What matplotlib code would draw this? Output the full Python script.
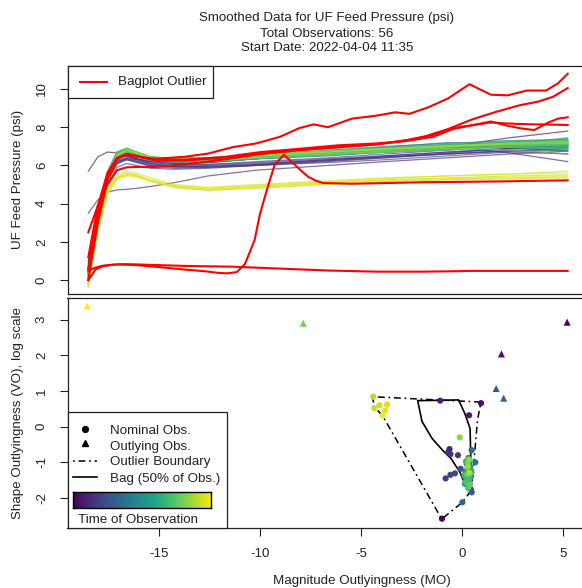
import numpy as np
import matplotlib
matplotlib.use('Agg')
import matplotlib.pyplot as plt
from matplotlib.patches import Rectangle, Polygon
from matplotlib.lines import Line2D

plt.rcParams['font.family'] = ['Liberation Sans', 'DejaVu Sans']
FS = 9.6

# ---------------- data ----------------
n_obs = 56
# observation order = time order; outliers drawn in red on top panel
outlier_ids = [1, 3, 16, 17, 44, 55]

# Bottom panel: magnitude (MO) and shape (VO, log) outlyingness per observation
mo = [-1.01, 5.18, 0.92, 1.93, 0.33, -1.10, -0.64, -0.70, -0.59, -0.22,
      -0.83, -0.59, -0.37, -0.09, 0.42, 0.46, 1.67, 2.04, 0.00, 0.46,
      0.64, 0.30, 0.22, 0.38, 0.15, 0.28, 0.42, 0.20, 0.33, 0.12,
      0.25, 0.40, 0.18, 0.35, 0.10, 0.30, 0.45, 0.24, 0.36, 0.16,
      0.28, 0.20, 0.38, 0.26, -7.87, -0.13, 0.32, 0.27, 0.35, -4.41,
      -4.36, -4.10, -3.73, -3.82, -3.95, -18.55]
vo = [-2.58, 2.93, 0.66, 2.04, 0.32, 0.73, -0.63, -0.72, -0.77, -0.80,
      -1.45, -1.35, -1.31, -1.18, -1.76, -1.84, 1.07, 0.80, -2.12, -0.66,
      -1.00, -0.88, -1.05, -1.12, -1.25, -1.30, -1.40, -1.48, -1.55, -1.60,
      -1.65, -1.22, -0.98, -0.95, -1.38, -1.08, -1.28, -1.20, -1.45, -1.55,
      -1.72, -1.35, -1.62, -1.00, 2.90, -0.30, -0.92, -1.12, -1.30, 0.84,
      0.52, 0.60, 0.62, 0.45, 0.31, 3.39]

# Bag (50%) and outlier boundary polygons
bag_x = [-2.21, -1.10, -0.19, 0.12, 0.38, 0.43, 0.36, 0.20, 0.10, -0.10, -0.55, -0.95, -1.50, -2.00]
bag_y = [0.73, 0.74, 0.75, 0.37, -0.05, -1.30, -1.55, -1.62, -1.58, -1.30, -0.90, -0.68, -0.33, 0.15]
fence_x = [-4.45, 0.92, 0.75, 0.62, 0.52, 0.42, 0.00, -1.02, -3.95, -4.35]
fence_y = [0.84, 0.69, 0.20, -0.65, -1.30, -1.80, -2.12, -2.59, 0.31, 0.55]

# Top panel: smoothed curves (fraction of run time)
curve_x = [0, 0.02, 0.04, 0.06, 0.08, 0.1, 0.13, 0.18, 0.25, 0.35, 0.5, 0.62, 0.75, 0.88, 1.0]
nominal_curves = {
    0: [0.8, 3.6, 5.3, 6.2, 6.4, 6.3, 6.1, 5.95, 5.95, 6.05, 6.3, 6.5, 6.7, 6.9, 7.0],
    2: [5.7, 6.45, 6.7, 6.65, 6.5, 6.35, 6.2, 6.1, 6.15, 6.35, 6.6, 6.8, 7.0, 7.45, 7.8],
    4: [1.0, 3.8, 5.6, 6.4, 6.5, 6.35, 6.2, 6.1, 6.15, 6.35, 6.65, 6.9, 7.0, 6.65, 6.2],
    5: [3.5, 4.2, 4.6, 4.72, 4.75, 4.8, 4.9, 5.1, 5.45, 5.75, 6.0, 6.2, 6.4, 6.6, 6.75],
    6: [0.6, 3.4, 5.2, 6.1, 6.3, 6.2, 6.0, 5.9, 5.9, 6.0, 6.2, 6.4, 6.65, 6.9, 6.8],
    7: [0.4, 3.2, 5.0, 5.9, 6.1, 6.0, 5.85, 5.8, 5.85, 6.0, 6.25, 6.45, 6.6, 6.75, 6.9],
    8: [0.9, 3.7, 5.4, 6.2, 6.35, 6.2, 6.0, 5.95, 6.0, 6.1, 6.3, 6.45, 6.6, 6.8, 6.6],
    9: [0.5, 3.5, 5.4, 6.3, 6.5, 6.35, 6.15, 6.05, 6.05, 6.2, 6.4, 6.6, 6.8, 7.05, 7.0],
    10: [0.7, 3.4, 5.2, 6.1, 6.3, 6.15, 5.95, 5.85, 5.9, 6.0, 6.15, 6.3, 6.5, 6.7, 6.6],
    11: [0.3, 3.3, 5.2, 6.1, 6.35, 6.25, 6.05, 5.95, 5.95, 6.05, 6.25, 6.4, 6.6, 6.75, 6.8],
    12: [0.6, 3.5, 5.3, 6.2, 6.4, 6.3, 6.1, 6.0, 6.05, 6.15, 6.35, 6.5, 6.7, 6.85, 6.9],
    13: [0.4, 3.4, 5.4, 6.4, 6.6, 6.45, 6.25, 6.15, 6.2, 6.35, 6.5, 6.7, 6.85, 7.0, 7.05],
    14: [0.5, 3.6, 5.5, 6.5, 6.7, 6.55, 6.35, 6.3, 6.35, 6.5, 6.7, 6.85, 7.0, 7.15, 7.2],
    15: [0.3, 3.5, 5.5, 6.5, 6.75, 6.6, 6.4, 6.3, 6.35, 6.5, 6.7, 6.85, 7.05, 7.2, 7.25],
    18: [0.6, 3.5, 5.4, 6.4, 6.6, 6.5, 6.3, 6.2, 6.25, 6.4, 6.6, 6.75, 6.9, 7.05, 7.1],
    19: [0.5, 3.7, 5.6, 6.6, 6.8, 6.65, 6.4, 6.3, 6.35, 6.5, 6.75, 6.95, 7.2, 7.1, 6.9],
    20: [0.7, 3.8, 5.7, 6.7, 6.85, 6.7, 6.45, 6.35, 6.4, 6.55, 6.8, 7.0, 7.15, 7.3, 7.35],
    21: [0.2, 3.4, 5.4, 6.55, 6.8, 6.6, 6.35, 6.25, 6.3, 6.45, 6.7, 6.85, 7.0, 7.15, 7.2],
    22: [0.4, 3.5, 5.3, 6.5, 6.75, 6.55, 6.3, 6.2, 6.25, 6.4, 6.6, 6.75, 6.9, 7.05, 7.05],
    23: [0.3, 3.6, 5.5, 6.6, 6.85, 6.65, 6.4, 6.3, 6.35, 6.5, 6.7, 6.8, 7.0, 7.2, 7.4],
    24: [0.1, 3.3, 5.3, 6.5, 6.7, 6.55, 6.3, 6.2, 6.25, 6.4, 6.6, 6.7, 6.85, 7.0, 6.95],
    25: [0.5, 3.6, 5.5, 6.6, 6.8, 6.6, 6.35, 6.25, 6.3, 6.45, 6.65, 6.8, 6.95, 7.1, 7.15],
    26: [0.2, 3.5, 5.5, 6.65, 6.85, 6.65, 6.4, 6.3, 6.35, 6.5, 6.75, 6.9, 7.05, 6.95, 6.75],
    27: [0.0, 3.2, 5.2, 6.45, 6.75, 6.6, 6.35, 6.25, 6.3, 6.45, 6.6, 6.75, 6.9, 7.0, 7.1],
    28: [0.3, 3.4, 5.4, 6.55, 6.8, 6.65, 6.4, 6.3, 6.3, 6.45, 6.65, 6.85, 7.1, 7.0, 7.25],
    29: [0.1, 3.3, 5.3, 6.5, 6.75, 6.6, 6.3, 6.2, 6.2, 6.35, 6.55, 6.7, 6.85, 6.95, 7.0],
    30: [0.4, 3.5, 5.4, 6.6, 6.8, 6.6, 6.35, 6.2, 6.25, 6.4, 6.6, 6.75, 6.9, 7.05, 7.3],
    31: [0.6, 3.7, 5.6, 6.7, 6.9, 6.7, 6.45, 6.35, 6.4, 6.55, 6.75, 6.9, 7.05, 7.2, 7.0],
    32: [0.2, 3.4, 5.4, 6.6, 6.85, 6.65, 6.4, 6.3, 6.35, 6.5, 6.7, 6.85, 7.0, 7.1, 7.45],
    33: [0.4, 3.6, 5.5, 6.65, 6.9, 6.7, 6.45, 6.35, 6.4, 6.55, 6.75, 6.9, 7.05, 7.25, 7.3],
    34: [0.0, 3.2, 5.2, 6.45, 6.7, 6.5, 6.25, 6.15, 6.2, 6.35, 6.55, 6.7, 6.85, 7.0, 7.05],
    35: [0.3, 3.5, 5.5, 6.6, 6.85, 6.65, 6.4, 6.3, 6.35, 6.5, 6.7, 6.8, 6.95, 7.15, 7.2],
    36: [0.5, 3.6, 5.6, 6.7, 6.9, 6.7, 6.45, 6.3, 6.35, 6.5, 6.75, 6.95, 7.1, 7.3, 7.2],
    37: [0.2, 3.3, 5.3, 6.55, 6.8, 6.6, 6.35, 6.25, 6.3, 6.45, 6.65, 6.8, 6.95, 7.05, 7.1],
    38: [0.1, 3.4, 5.4, 6.6, 6.85, 6.65, 6.4, 6.3, 6.3, 6.45, 6.7, 6.85, 7.05, 7.2, 7.15],
    39: [-0.1, 3.1, 5.1, 6.4, 6.7, 6.55, 6.3, 6.2, 6.25, 6.4, 6.6, 6.75, 6.9, 7.0, 6.9],
    40: [0.0, 3.2, 5.3, 6.5, 6.75, 6.6, 6.35, 6.2, 6.2, 6.35, 6.55, 6.7, 6.8, 6.95, 6.85],
    41: [0.2, 3.4, 5.4, 6.55, 6.8, 6.6, 6.35, 6.25, 6.3, 6.45, 6.65, 6.8, 6.95, 7.1, 7.0],
    42: [-0.2, 3.0, 5.1, 6.4, 6.7, 6.55, 6.3, 6.2, 6.25, 6.4, 6.6, 6.7, 6.85, 7.0, 7.1],
    43: [0.3, 3.5, 5.5, 6.65, 6.9, 6.7, 6.45, 6.35, 6.4, 6.55, 6.75, 6.9, 7.0, 7.2, 7.3],
    45: [-0.3, 2.8, 5.0, 6.3, 6.6, 6.5, 6.3, 6.2, 6.25, 6.4, 6.6, 6.75, 6.9, 6.8, 6.6],
    46: [-0.2, 3.0, 5.2, 6.55, 6.85, 6.7, 6.45, 6.35, 6.4, 6.55, 6.75, 6.9, 7.05, 7.15, 7.25],
    47: [-0.3, 2.9, 5.1, 6.5, 6.8, 6.65, 6.4, 6.3, 6.35, 6.5, 6.7, 6.85, 7.0, 7.1, 7.15],
    48: [-0.1, 3.1, 5.2, 6.5, 6.8, 6.65, 6.4, 6.3, 6.35, 6.5, 6.7, 6.85, 7.0, 7.15, 7.2],
    49: [-0.35, 2.5, 4.5, 5.3, 5.5, 5.45, 5.2, 4.85, 4.7, 4.8, 5.0, 5.15, 5.25, 5.3, 5.35],
    50: [-0.2, 2.7, 4.6, 5.35, 5.6, 5.5, 5.2, 4.9, 4.75, 4.9, 5.1, 5.25, 5.35, 5.45, 5.5],
    51: [0.0, 2.9, 4.8, 5.5, 5.7, 5.6, 5.35, 5.0, 4.85, 5.0, 5.2, 5.35, 5.45, 5.55, 5.7],
    52: [-0.1, 2.8, 4.7, 5.4, 5.6, 5.5, 5.25, 4.95, 4.8, 4.95, 5.15, 5.3, 5.45, 5.55, 5.6],
    53: [-0.3, 2.6, 4.5, 5.25, 5.45, 5.4, 5.15, 4.85, 4.7, 4.85, 5.05, 5.2, 5.3, 5.35, 5.4],
    54: [-0.2, 2.7, 4.6, 5.3, 5.5, 5.45, 5.2, 4.9, 4.75, 4.85, 5.05, 5.2, 5.3, 5.4, 5.45],
}
outlier_curves = {
    1: ([0, 0.02, 0.04, 0.06, 0.08, 0.1, 0.14, 0.2, 0.25, 0.3, 0.35, 0.4, 0.44, 0.47, 0.5, 0.55,
         0.6, 0.64, 0.67, 0.71, 0.75, 0.795, 0.84, 0.875, 0.915, 0.955, 0.98, 1.0],
        [1.2, 3.9, 5.6, 6.4, 6.55, 6.45, 6.35, 6.45, 6.62, 6.95, 7.15, 7.5, 7.95, 8.15, 8.0, 8.45,
         8.6, 8.78, 8.7, 9.05, 9.5, 10.25, 9.7, 9.67, 9.92, 9.92, 10.3, 10.8]),
    3: ([0, 0.02, 0.04, 0.06, 0.08, 0.1, 0.14, 0.2, 0.28, 0.36, 0.44, 0.52, 0.6, 0.65, 0.7, 0.75,
         0.8, 0.85, 0.9, 0.94, 0.97, 1.0],
        [0.0, 3.0, 5.2, 6.3, 6.6, 6.5, 6.3, 6.3, 6.43, 6.7, 6.87, 7.05, 7.15, 7.25, 7.5, 7.9,
         8.4, 8.8, 9.15, 9.35, 9.6, 10.05]),
    16: ([0, 0.02, 0.04, 0.06, 0.08, 0.1, 0.14, 0.2, 0.28, 0.36, 0.44, 0.52, 0.6, 0.67, 0.72, 0.76,
          0.8, 0.84, 0.87, 0.9, 0.93, 0.96, 0.98, 1.0],
         [2.5, 3.9, 5.0, 5.75, 5.9, 5.92, 5.92, 6.05, 6.3, 6.6, 6.8, 6.95, 7.1, 7.35, 7.6, 7.95,
          8.1, 8.3, 8.1, 7.95, 7.85, 8.25, 8.45, 8.52]),
    17: ([0, 0.02, 0.04, 0.06, 0.08, 0.1, 0.14, 0.2, 0.28, 0.36, 0.44, 0.52, 0.6, 0.67, 0.72, 0.76,
          0.8, 0.84, 0.87, 0.9, 0.93, 0.96, 0.98, 1.0],
         [0.6, 3.4, 5.4, 6.4, 6.6, 6.5, 6.25, 6.25, 6.4, 6.62, 6.8, 6.95, 7.1, 7.3, 7.5, 7.9,
          8.1, 8.25, 8.2, 8.17, 8.15, 8.14, 8.13, 8.12]),
    44: ([0, 0.015, 0.03, 0.05, 0.065, 0.1, 0.16, 0.2, 0.24, 0.27, 0.29, 0.31, 0.327, 0.347,
          0.358, 0.374, 0.389, 0.408, 0.428, 0.445, 0.459, 0.475, 0.49, 0.55, 0.7, 0.85, 1.0],
         [0.5, 0.65, 0.75, 0.8, 0.82, 0.78, 0.65, 0.55, 0.47, 0.38, 0.35, 0.42, 0.85, 2.1,
          3.45, 4.85, 6.05, 6.55, 6.1, 5.7, 5.4, 5.2, 5.08, 5.04, 5.12, 5.16, 5.22]),
    55: ([0, 0.015, 0.03, 0.05, 0.07, 0.1, 0.15, 0.2, 0.3, 0.4, 0.5, 0.6, 0.7, 0.76, 0.8, 0.9, 1.0],
         [0.0, 0.55, 0.72, 0.8, 0.83, 0.82, 0.78, 0.74, 0.7, 0.6, 0.5, 0.44, 0.44, 0.46, 0.48, 0.48, 0.48]),
}

title_lines = ["Smoothed Data for UF Feed Pressure (psi)",
               "Total Observations: 56",
               "Start Date: 2022-04-04 11:35"]
top_yticks = [0, 2, 4, 6, 8, 10]
bot_yticks = [-2, -1, 0, 1, 2, 3]
bot_xticks = [-15, -10, -5, 0, 5]

# ---------------- figure ----------------
W, H = 582, 588
fig = plt.figure(figsize=(W / 100, H / 100), dpi=100)
cmap = plt.get_cmap('viridis')
obs_colors = [cmap(i / (n_obs - 1)) for i in range(n_obs)]

def px_rect(l, t, r, b):
    return [l / W, 1 - b / H, (r - l) / W, (b - t) / H]

ax1 = fig.add_axes(px_rect(67.5, 65.7, 655.5, 294.0))
ax2 = fig.add_axes(px_rect(67.5, 298.3, 655.5, 528.3))

for ax in (ax1, ax2):
    for s in ax.spines.values():
        s.set_linewidth(0.9)
        s.set_color('#222222')
    ax.spines['right'].set_visible(False)
    ax.tick_params(direction='out', length=5.8, width=0.8, pad=8.3, labelsize=FS, colors='#222222')

# top panel curves
for i in range(n_obs):
    if i in nominal_curves:
        ax1.plot(curve_x, nominal_curves[i], color=obs_colors[i], lw=0.9, alpha=0.65,
                 solid_joinstyle='round')
for i in outlier_ids:
    xs, ys = outlier_curves[i]
    ax1.plot(xs, ys, color='#ff0000', lw=1.5, solid_joinstyle='round')

ax1.set_xlim(-0.0434, 1.1832)
ax1.set_ylim(-0.73, 11.22)
ax1.set_xticks([])
ax1.set_yticks(top_yticks)
ax1.set_yticklabels([str(v) for v in top_yticks], rotation=90, va='center')
ax1.set_ylabel("UF Feed Pressure (psi)", fontsize=FS, color='#222222')
ax1.yaxis.set_label_coords(-(67.5 - 24.5) / 588.0, 0.5)

# top legend
ax1.add_patch(Rectangle((0, 0.857), 0.2466, 0.143, transform=ax1.transAxes,
                        facecolor='white', edgecolor='#222222', lw=0.9, zorder=5, clip_on=False))
ax1.add_line(Line2D([0.0221, 0.0677], [0.93, 0.93], transform=ax1.transAxes,
                    color='#ff0000', lw=1.5, zorder=6))
ax1.text(0.0854, 0.93, "Bagplot Outlier", transform=ax1.transAxes, fontsize=FS,
         va='center', ha='left', zorder=6, color='#222222')

# bottom panel
ax2.add_patch(Polygon(np.column_stack([fence_x, fence_y]), closed=True, fill=False,
                      edgecolor='black', lw=1.1, linestyle=(0, (1.2, 2.4, 4.5, 2.4)), zorder=2))
ax2.add_patch(Polygon(np.column_stack([bag_x, bag_y]), closed=True, fill=False,
                      edgecolor='black', lw=1.2, zorder=2))
for i in range(n_obs):
    if i in outlier_ids:
        ax2.scatter([mo[i]], [vo[i]], marker='^', s=26, color=obs_colors[i],
                    edgecolors='none', zorder=3)
    else:
        ax2.scatter([mo[i]], [vo[i]], marker='o', s=20, color=obs_colors[i],
                    edgecolors='none', zorder=3)

ax2.set_xlim(-19.53, 9.55)
ax2.set_ylim(-2.85, 3.6)
ax2.set_xticks(bot_xticks)
ax2.set_xticklabels([str(v) for v in bot_xticks])
ax2.set_yticks(bot_yticks)
ax2.set_yticklabels([str(v) for v in bot_yticks], rotation=90, va='center')
ax2.set_xlabel("Magnitude Outlyingness (MO)", fontsize=FS, color='#222222')
ax2.xaxis.set_label_coords(0.5, -(575 - 528.3) / 230.0)
ax2.set_ylabel("Shape Outlyingness (VO), log scale", fontsize=FS, color='#222222')
ax2.yaxis.set_label_coords(-(67.5 - 24.5) / 588.0, 0.5)

# bottom legend
ax2.add_patch(Rectangle((0, 0), 0.2707, 0.504, transform=ax2.transAxes,
                        facecolor='white', edgecolor='#222222', lw=0.9, zorder=5, clip_on=False))
ax2.add_line(Line2D([0.0298], [0.430], transform=ax2.transAxes, marker='o', markersize=4.2,
                    color='black', lw=0, zorder=6))
ax2.add_line(Line2D([0.0298], [0.372], transform=ax2.transAxes, marker='^', markersize=5,
                    color='black', lw=0, zorder=6))
ax2.add_line(Line2D([0.0088, 0.0497], [0.2926, 0.2926], transform=ax2.transAxes, color='black',
                    lw=1.1, linestyle=(0, (1.2, 2.4, 4.5, 2.4)), zorder=6))
ax2.add_line(Line2D([0.0088, 0.0497], [0.2217, 0.2217], transform=ax2.transAxes, color='black',
                    lw=1.2, zorder=6))
legend_labels = ["Nominal Obs.", "Outlying Obs.", "Outlier Boundary", "Bag (50% of Obs.)"]
for lab, yy in zip(legend_labels, [0.4243, 0.3548, 0.287, 0.2143]):
    ax2.text(0.0723, yy, lab, transform=ax2.transAxes, fontsize=FS, va='center', ha='left',
             zorder=6, color='#222222')
cax = ax2.inset_axes([0.0088, 0.0896, 0.2347, 0.0669])
cax.imshow(np.linspace(0, 1, 256)[None, :], aspect='auto', cmap='viridis')
cax.set_xticks([])
cax.set_yticks([])
for s in cax.spines.values():
    s.set_linewidth(1.0)
    s.set_color('black')
cax.set_zorder(7)
ax2.text(0.1207, 0.035, "Time of Observation", transform=ax2.transAxes, fontsize=FS,
         va='center', ha='center', zorder=6, color='#222222')

# titles
for line, yy in zip(title_lines, [17.7, 33.7, 48.3]):
    fig.text(327 / W, 1 - yy / H, line, fontsize=FS, ha='center', va='center', color='#222222')

fig.savefig('out.png', dpi=100)
